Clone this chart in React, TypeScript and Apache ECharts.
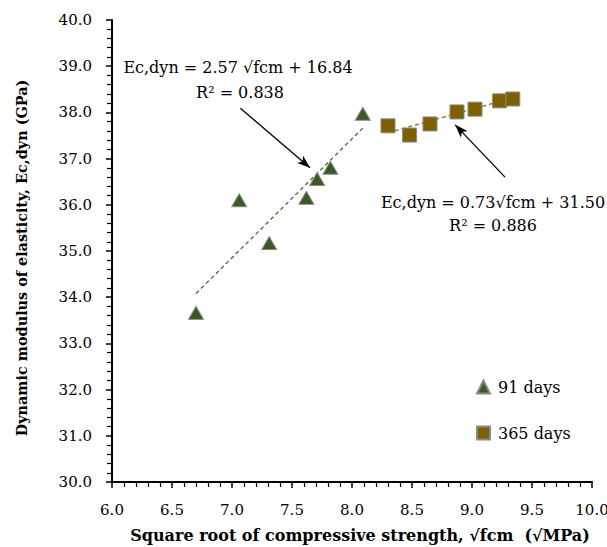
import React, { useEffect, useRef } from "react";
import * as echarts from "echarts";

const days91: number[][] = [
  [6.70, 33.66], [7.06, 36.10], [7.31, 35.17], [7.62, 36.15],
  [7.71, 36.56], [7.82, 36.80], [8.09, 37.97],
];
const days365: number[][] = [
  [8.30, 37.71], [8.48, 37.51], [8.65, 37.75], [8.875, 38.01],
  [9.025, 38.07], [9.23, 38.25], [9.34, 38.29],
];
const trend91: number[][] = [[6.70, 34.08], [8.09, 37.66]];
const trend365: number[][] = [[8.30, 37.56], [9.36, 38.33]];
const arrow91: number[][] = [[7.07, 38.09], [7.65, 36.80]];
const arrow365: number[][] = [[9.275, 36.60], [8.86, 37.73]];
const seriesNames = ["91 days", "365 days"];
const eq91 = ["Ec,dyn = 2.57 √fcm + 16.84", "R² = 0.838"];
const eq365 = ["Ec,dyn = 0.73√fcm + 31.50", "R² = 0.886"];

const FONT = "'DejaVu Serif', 'Liberation Serif', serif";

export default function App() {
  const ref = useRef<HTMLDivElement>(null);
  useEffect(() => {
    if (!ref.current) return;
    const chart = echarts.init(ref.current, undefined, { renderer: "svg" });
    const axisCommon = {
      axisLine: { show: true, lineStyle: { color: "#000", width: 2 } },
      axisTick: { show: true, inside: false, length: 6, lineStyle: { color: "#000", width: 1.5 } },
      minorTick: { show: true, splitNumber: 5, length: 5, lineStyle: { color: "#000", width: 1.2 } },
      splitLine: { show: false },
      axisLabel: { color: "#000", fontFamily: FONT, fontSize: 15, margin: 20, formatter: (v: number) => v.toFixed(1) },
    };
    const txt = (s: string, x: number, y: number) => ({
      type: "text", x, y,
      style: { text: s, font: `16px ${FONT}`, fill: "#000", align: "center", verticalAlign: "middle" },
    });
    chart.setOption({
      animation: false,
      backgroundColor: "#fff",
      grid: { left: 112, right: 15, top: 20, bottom: 65, outerBoundsMode: "none", containLabel: false },
      xAxis: {
        type: "value", min: 6, max: 10, interval: 0.5,
        ...axisCommon,
        name: "Square root of compressive strength, √fcm  (√MPa)",
        nameLocation: "middle", nameGap: 45,
        nameTextStyle: { color: "#000", fontFamily: FONT, fontWeight: "bold", fontSize: 16, padding: [0, 0, 0, 16] },
      },
      yAxis: {
        type: "value", min: 30, max: 40, interval: 1,
        ...axisCommon,
        name: "Dynamic modulus of elasticity, Ec,dyn (GPa)",
        nameLocation: "middle", nameGap: 84,
        nameTextStyle: { color: "#000", fontFamily: FONT, fontWeight: "bold", fontSize: 14.4, padding: [0, 14, 0, 0] },
      },
      legend: {
        orient: "vertical", left: 476, top: 379, itemGap: 30, padding: 0,
        itemWidth: 13, itemHeight: 13,
        data: seriesNames,
        textStyle: { color: "#000", fontFamily: FONT, fontSize: 16, padding: [0, 0, 0, 3] },
      },
      series: [
        {
          name: seriesNames[0], type: "scatter", data: days91, symbol: "triangle", symbolSize: [15, 13],
          itemStyle: { color: "#3a5a24", borderColor: "#8a8a8a", borderWidth: 1, opacity: 1 }, z: 5,
          emphasis: { disabled: true },
          markLine: {
            silent: true, symbol: ["none", "arrow"], symbolSize: [7, 13],
            lineStyle: { color: "#000", width: 1.3, type: "solid" }, label: { show: false },
            data: [[{ coord: arrow91[0] }, { coord: arrow91[1] }]],
          },
        },
        {
          name: seriesNames[1], type: "scatter", data: days365, symbol: "rect", symbolSize: 14,
          itemStyle: { color: "#7f6000", borderColor: "#8a8a8a", borderWidth: 1, opacity: 1 }, z: 5,
          emphasis: { disabled: true },
          markLine: {
            silent: true, symbol: ["none", "arrow"], symbolSize: [7, 13],
            lineStyle: { color: "#000", width: 1.3, type: "solid" }, label: { show: false },
            data: [[{ coord: arrow365[0] }, { coord: arrow365[1] }]],
          },
        },
        {
          name: "trend91", type: "line", data: trend91, showSymbol: false, symbol: "none",
          lineStyle: { color: "#4a6b32", width: 1.3, type: [4, 3] }, z: 3,
        },
        {
          name: "trend365", type: "line", data: trend365, showSymbol: false, symbol: "none",
          lineStyle: { color: "#8a6a10", width: 1.3, type: [4, 3] }, z: 3,
        },
      ],
      graphic: [
        txt(eq91[0], 238, 67),
        txt(eq91[1], 240, 92),
        txt(eq365[0], 493, 202),
        txt(eq365[1], 493, 225),
      ],
    });
    return () => chart.dispose();
  }, []);
  return <div ref={ref} style={{ width: 607, height: 547, position: "absolute", left: 0, top: 0 }} />;
}
